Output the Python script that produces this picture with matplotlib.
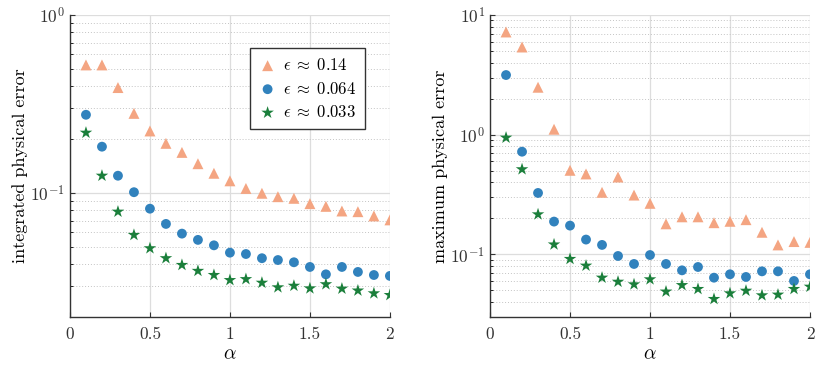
import numpy as np
import matplotlib
matplotlib.use("Agg")
import matplotlib.pyplot as plt
from matplotlib.ticker import LogLocator, NullFormatter, FixedLocator, FuncFormatter

# ===== 데이터 =====
alpha = [0.1, 0.2, 0.3, 0.4, 0.5, 0.6, 0.7, 0.8, 0.9, 1.0,
         1.1, 1.2, 1.3, 1.4, 1.5, 1.6, 1.7, 1.8, 1.9, 2.0]
labels = [r"$\epsilon \;\approx\; 0.14$", r"$\epsilon \;\approx\; 0.064$", r"$\epsilon \;\approx\; 0.033$"]

# integrated physical error
int_014 = [0.524, 0.524, 0.391, 0.280, 0.223, 0.190, 0.169, 0.146, 0.129, 0.117,
           0.106, 0.0996, 0.0953, 0.0933, 0.0871, 0.0841, 0.0792, 0.0785, 0.0743, 0.0706]
int_0064 = [0.275, 0.182, 0.125, 0.101, 0.0816, 0.0670, 0.0591, 0.0545, 0.0508, 0.0462,
            0.0454, 0.0430, 0.0420, 0.0408, 0.0384, 0.0349, 0.0384, 0.0360, 0.0346, 0.0342]
int_0033 = [0.218, 0.125, 0.0785, 0.0581, 0.0489, 0.0430, 0.0394, 0.0365, 0.0346, 0.0324,
            0.0328, 0.0313, 0.0295, 0.0301, 0.0291, 0.0307, 0.0290, 0.0283, 0.0273, 0.0267]

# maximum physical error
max_014 = [7.21, 5.40, 2.49, 1.11, 0.504, 0.470, 0.330, 0.443, 0.313, 0.267,
           0.180, 0.206, 0.206, 0.184, 0.189, 0.195, 0.153, 0.120, 0.128, 0.126]
max_0064 = [3.15, 0.721, 0.326, 0.188, 0.174, 0.133, 0.120, 0.0970, 0.0832, 0.0988,
            0.0832, 0.0736, 0.0785, 0.0639, 0.0682, 0.0648, 0.0722, 0.0722, 0.0600, 0.0682]
max_0033 = [0.944, 0.514, 0.216, 0.121, 0.0916, 0.0805, 0.0639, 0.0591, 0.0562, 0.0619,
            0.0489, 0.0554, 0.0514, 0.0424, 0.0473, 0.0497, 0.0455, 0.0461, 0.0514, 0.0537]

# ===== 스타일 =====
plt.rcParams["font.family"] = "serif"
plt.rcParams["font.serif"] = ["cmr10", "DejaVu Serif"]
plt.rcParams["mathtext.fontset"] = "cm"
plt.rcParams["axes.formatter.use_mathtext"] = True
plt.rcParams["axes.unicode_minus"] = False

COLORS = ["#f4a582", "#3182bd", "#1b7f3b"]
MARKERS = ["^", "o", "*"]
SIZES = [62, 50, 90]


def xfmt(v, _):
    return f"{v:g}"


def style_ax(ax, ylim, ylabel):
    ax.set_yscale("log")
    ax.set_xlim(0, 2)
    ax.set_ylim(*ylim)
    ax.xaxis.set_major_locator(FixedLocator([0, 0.5, 1, 1.5, 2]))
    ax.xaxis.set_major_formatter(FuncFormatter(xfmt))
    ax.yaxis.set_major_locator(LogLocator(base=10, numticks=10))
    ax.yaxis.set_minor_locator(LogLocator(base=10, subs=np.arange(2, 10), numticks=20))
    ax.yaxis.set_minor_formatter(NullFormatter())
    ax.grid(True, which="major", color="#dddddd", lw=0.9, ls="-")
    ax.grid(True, which="minor", axis="y", color="#c4c4c4", lw=0.7, ls=(0, (1, 2)))
    ax.set_axisbelow(True)
    for s in ["top", "right"]:
        ax.spines[s].set_visible(False)
    for s in ["left", "bottom"]:
        ax.spines[s].set_color("#333333")
        ax.spines[s].set_linewidth(1.0)
    ax.tick_params(which="major", direction="in", length=3.5, width=0.8, labelsize=12.5, colors="#333333")
    ax.tick_params(which="minor", direction="in", length=2, width=0.6)
    ax.tick_params(axis="x", pad=7)
    ax.set_xlabel(r"$\alpha$", fontsize=14, labelpad=2)
    ax.set_ylabel(ylabel, fontsize=13, labelpad=2)


fig = plt.figure(figsize=(8.31, 3.68), dpi=100)
ax1 = fig.add_axes([0.0842, 0.1386, 0.385, 0.8207])
ax2 = fig.add_axes([0.5897, 0.1386, 0.385, 0.8207])

for ys, lab, c, m, s in zip([int_014, int_0064, int_0033], labels, COLORS, MARKERS, SIZES):
    ax1.scatter(alpha, ys, marker=m, s=s, color=c, edgecolors="none", label=lab, zorder=3)
for ys, c, m, s in zip([max_014, max_0064, max_0033], COLORS, MARKERS, SIZES):
    ax2.scatter(alpha, ys, marker=m, s=s, color=c, edgecolors="none", zorder=3)

style_ax(ax1, (0.0201, 1.0), "integrated physical error")
style_ax(ax2, (0.03, 10.0), "maximum physical error")

leg = ax1.legend(loc="upper right", bbox_to_anchor=(0.922, 0.891), fontsize=12,
                 frameon=True, fancybox=False, edgecolor="#333333", framealpha=1,
                 borderpad=0.55, labelspacing=0.45, handletextpad=0.4, handlelength=1.0,
                 borderaxespad=0)
leg.get_frame().set_linewidth(1.0)

fig.savefig("out.png", dpi=100)
